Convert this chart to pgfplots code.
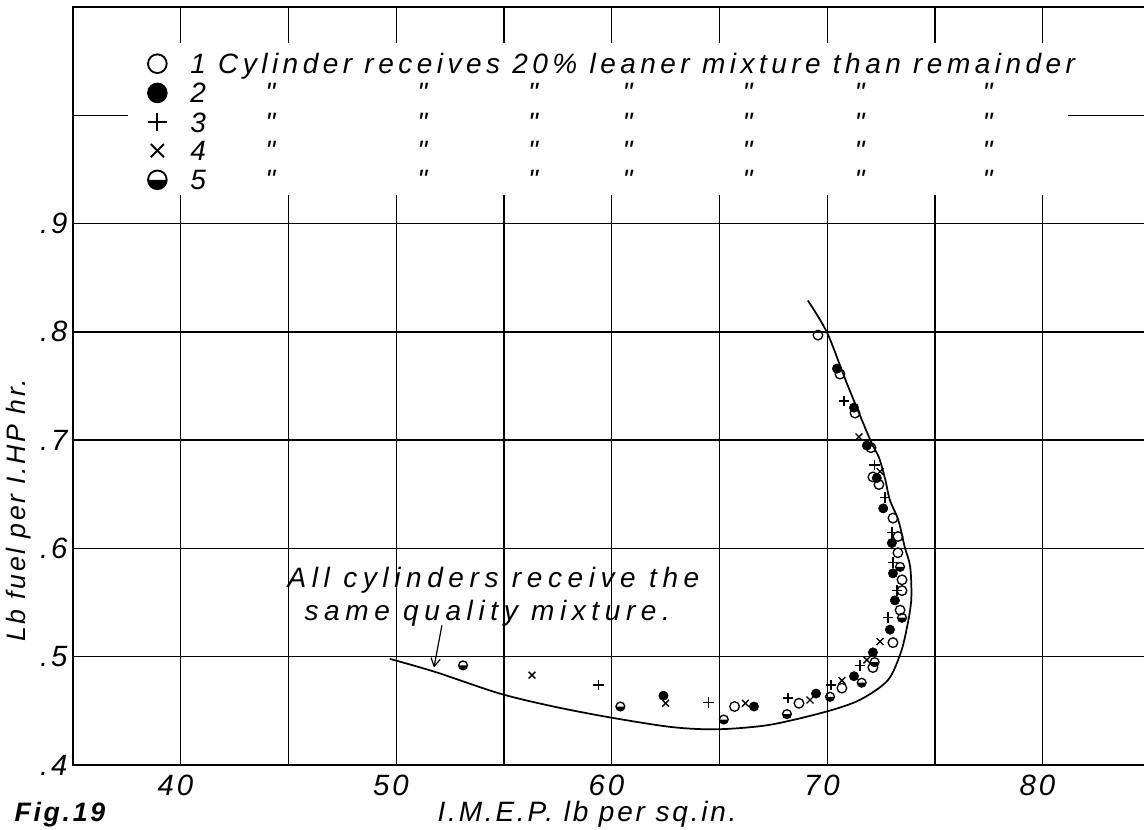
\documentclass[border=0pt]{standalone}
\usepackage{fontspec}
\setmainfont{Liberation Sans}[LetterSpace=10]
\newfontfamily\wide{Liberation Sans}[LetterSpace=20]
\newfontfamily\keyfont{Liberation Sans}[LetterSpace=16]
\usepackage{pgfplots}
\pgfplotsset{compat=1.18}
\usetikzlibrary{arrows.meta}

% circle with the lower half filled (series 5)
\pgfdeclareplotmark{halfo}{%
  \pgfpathmoveto{\pgfqpoint{-\pgfplotmarksize}{0pt}}%
  \pgfpatharc{180}{360}{\pgfplotmarksize}%
  \pgfpathclose
  \pgfusepathqfill
  \pgfpathcircle{\pgfpointorigin}{\pgfplotmarksize}%
  \pgfusepathqstroke
}

% ditto marks under the words of the first legend line
\newcommand\dit[1]{\rlap{\hspace{#1pt}\makebox[0pt]{"}}}
\newcommand\ditrow{\dit{60}\dit{174}\dit{257}\dit{328}\dit{418}\dit{502}\dit{598}}

\begin{document}
\begin{tikzpicture}
\begin{axis}[
    name=ax,
    scale only axis,
    width=803.25pt, height=568.5pt,
    xmin=35, xmax=84.7,
    ymin=0.4, ymax=1.1,
    xtick={40,45,...,80},
    xticklabels={40,,50,,60,,70,,80},
    ytick={0.4,0.5,0.6,0.7,0.8,0.9,1.0},
    yticklabels={.4,.5,.6,.7,.8,.9,},
    grid=major,
    major grid style={black, line width=1.1pt},
    major tick length=0pt,
    axis line style={draw=none},
    clip=false,
    /pgf/number format/assume math mode=true,
    tick label style={font=\fontsize{22}{22}\selectfont\itshape, inner sep=0pt},
    xticklabel style={anchor=north, yshift=-7pt, xshift=-4pt},
    yticklabel style={anchor=east, xshift=-4pt},
    xlabel={I.M.E.P. lb per sq.in.},
    xlabel style={at={(axis description cs:0.48,0)}, anchor=base, yshift=-42.5pt,
        inner sep=0pt, font=\fontsize{21}{21}\selectfont\itshape},
    ylabel={Lb fuel per I.HP hr.},
    ylabel style={at={(axis description cs:0,0.336)}, anchor=center, yshift=41pt,
        font=\fontsize{20}{20}\selectfont\itshape},
    legend cell align=left,
    legend style={at={(axis cs:38.16,1.0565)}, anchor=north west, draw=none, fill=none,
        inner sep=0pt, row sep=3.4pt,
        font=\fontsize{21}{21}\selectfont\keyfont\itshape,
        nodes={inner sep=0pt, text height=14pt, text depth=4pt},
        /tikz/every odd column/.append style={column sep=12.75pt}},
    legend image code/.code={%
        \path[draw=none, fill=none] (0pt,-4pt) rectangle (24pt,9pt);
        \draw[#1, mark size=7pt, line width=1.4pt] plot coordinates {(12pt,2.5pt)};},
]

% blank panel behind the key
\fill[white] (axis cs:37.55,1.067) rectangle (axis cs:81.17,0.926);

% frame: left, bottom, top
\draw[line width=1.6pt] (rel axis cs:1,1) -- (rel axis cs:0,1) -- (rel axis cs:0,0) -- (rel axis cs:1,0);

% all cylinders receive the same quality mixture
\addplot[smooth, tension=0.5, line width=1.3pt, no marks, forget plot] coordinates {
    (49.7,0.498) (51.8,0.486) (54.8,0.466) (57.3,0.454) (59.9,0.444)
    (62.8,0.435) (64.9,0.433) (67.3,0.437) (69.9,0.449) (71.5,0.460)
    (72.8,0.478) (73.4,0.503) (73.7,0.527) (73.9,0.553) (73.85,0.583)
    (73.6,0.601) (73.3,0.626) (72.9,0.645) (72.7,0.663) (72.4,0.684)
    (72.0,0.700) (70.9,0.753) (70.0,0.799) (69.1,0.829)
};

% 1 cylinder leaner
\addplot[only marks, mark=o, mark size=3.6pt, line width=1pt] coordinates {
    (69.57,0.797) (70.59,0.761) (71.29,0.725) (72.03,0.693) (72.12,0.666)
    (72.40,0.659) (73.05,0.628) (73.28,0.611) (73.28,0.596) (73.47,0.571)
    (73.47,0.561) (73.38,0.543) (73.05,0.513) (72.12,0.490) (70.68,0.471)
    (68.69,0.457) (65.70,0.454)
};
\addlegendentry{1 Cylinder receives 20\% leaner mixture than remainder}

% 2
\addplot[only marks, mark=*, mark size=3.5pt] coordinates {
    (70.45,0.766) (71.24,0.730) (71.84,0.695) (72.30,0.665) (72.60,0.637)
    (73.00,0.605) (73.05,0.577) (73.14,0.552) (72.91,0.525) (72.12,0.504)
    (71.24,0.482) (69.48,0.466) (66.60,0.454) (62.40,0.464)
};
\addlegendentry{\ditrow 2}

% 3
\addplot[only marks, mark=+, mark size=4pt, line width=1pt] coordinates {
    (70.78,0.736) (72.20,0.677) (72.68,0.647) (73.00,0.615) (73.05,0.587)
    (73.24,0.561) (72.82,0.536) (71.52,0.492) (70.17,0.474) (68.18,0.462)
    (64.50,0.458) (59.40,0.474)
};
\addlegendentry{\ditrow 3}

% 4
\addplot[only marks, mark=x, mark size=3.6pt, line width=1pt] coordinates {
    (71.47,0.703) (72.45,0.671) (72.45,0.514) (71.84,0.497) (70.68,0.478)
    (69.20,0.460) (66.20,0.457) (62.50,0.457) (56.30,0.483)
};
\addlegendentry{\ditrow 4}

% 5
\addplot[only marks, mark=halfo, mark size=3.3pt, fill=black, line width=1pt] coordinates {
    (73.38,0.583) (73.47,0.536) (72.20,0.495) (71.60,0.476) (70.13,0.463)
    (68.13,0.447) (65.20,0.442) (60.40,0.454) (53.10,0.492)
};
\addlegendentry{\ditrow 5}

% note and arrow
\node[anchor=west, font=\fontsize{21}{21}\selectfont\wide\itshape] at (axis cs:44.74,0.571) {All cylinders receive the};
\node[anchor=west, font=\fontsize{21}{21}\selectfont\wide\itshape] at (axis cs:45.53,0.540) {same quality mixture.};
\draw[line width=0.9pt, -{Straight Barb[length=6pt, width=7pt]}] (axis cs:52.12,0.529) -- (axis cs:51.75,0.490);

\node[anchor=west, xshift=-47.25pt, yshift=-37.5pt, font=\fontsize{20}{20}\selectfont\bfseries\itshape]
    at (axis description cs:0,0) {Fig.19};
\end{axis}
\pgfresetboundingbox
\useasboundingbox ([shift={(-54.75pt,-48.75pt)}]ax.south west) rectangle ([shift={(0pt,5.25pt)}]ax.north east);
\end{tikzpicture}
\end{document}
